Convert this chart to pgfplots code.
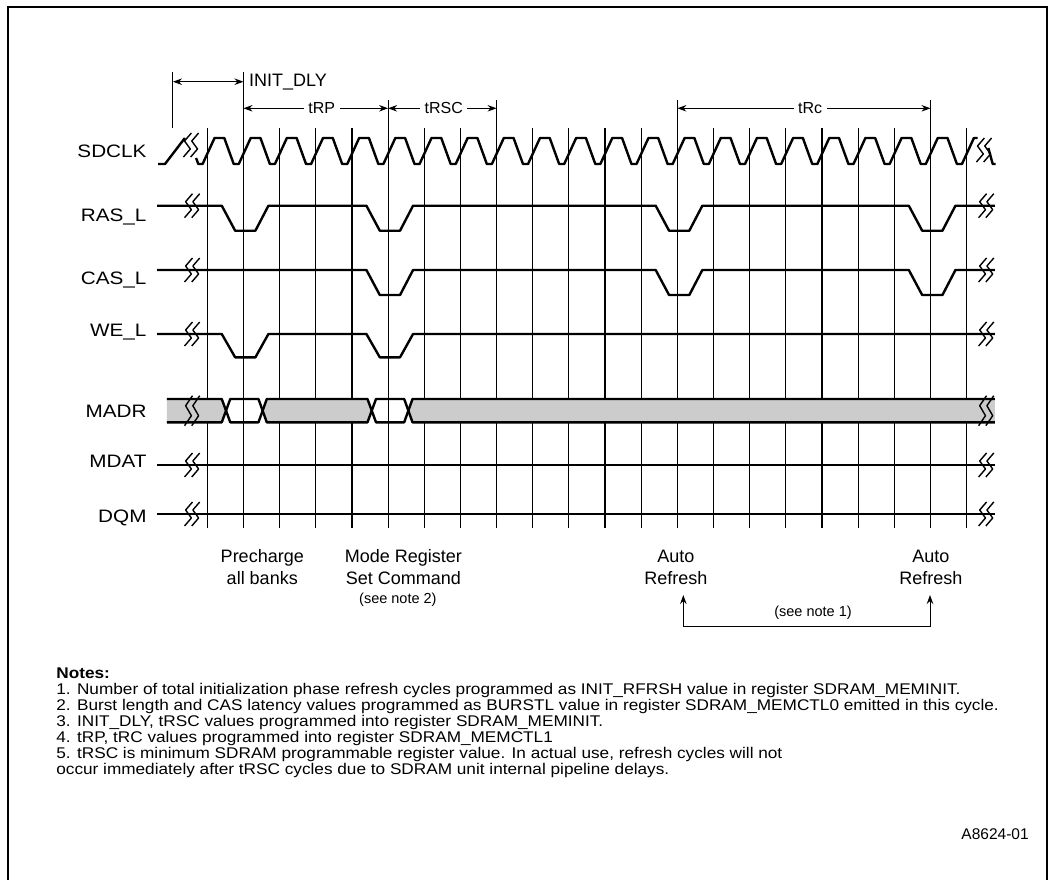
\documentclass[border=0pt]{standalone}
\usepackage{pgfplots}
\pgfplotsset{compat=1.18}
\usepackage{fontspec}
\setmainfont{Liberation Sans}
\newfontfamily\widefont[FakeStretch=1.15]{Liberation Sans}
\newfontfamily\notefont[FakeStretch=1.11]{Liberation Sans}
\usetikzlibrary{arrows.meta}
\definecolor{busgray}{RGB}{204,204,204}
\newcommand\lblfont{\widefont\fontsize{18}{21}\selectfont}
\newcommand\nfont{\notefont\fontsize{15.5}{16}\selectfont}
\tikzset{
  sig/.style={black, line width=2.4pt, mark=none, line join=round},
  grd/.style={black, line width=1.15pt, mark=none},
  mk/.style={black, line width=1pt, mark=none},
  arr/.style={line width=1pt, {Stealth[length=9pt,width=6.5pt]}-{Stealth[length=9pt,width=6.5pt]}},
}
\newcommand\brk[3]{% x center, y center, half height
  \draw[line width=1.4pt, line join=round] (axis cs:{#1-0.1+0.11},{#2-#3}) -- (axis cs:{#1-0.1-0.08},{#2-#3/3}) -- (axis cs:{#1-0.1+0.08},{#2+#3/3}) -- (axis cs:{#1-0.1-0.11},{#2+#3});
  \draw[line width=1.4pt, line join=round] (axis cs:{#1+0.1+0.11},{#2-#3}) -- (axis cs:{#1+0.1-0.08},{#2-#3/3}) -- (axis cs:{#1+0.1+0.08},{#2+#3/3}) -- (axis cs:{#1+0.1-0.11},{#2+#3});
}
\begin{document}
\begin{tikzpicture}
\begin{axis}[
  scale only axis, width=1055pt, height=877pt,
  xmin=-5.733, xmax=23.443, ymin=0, ymax=877, y dir=reverse,
  hide axis, clip=false,
]
\path (rel axis cs:0,0) rectangle (rel axis cs:1,1);
% frame
\draw[line width=2.2pt] (axis cs:-5.51,880) -- (axis cs:-5.51,7) -- (axis cs:23.22,7) -- (axis cs:23.22,880);

% grid lines (clock edges)
\pgfplotsinvokeforeach{0,...,21}{\addplot[grd] coordinates {(#1,128) (#1,528)};}
% timing markers above the clock
\addplot[mk] coordinates {(-0.95,72) (-0.95,128)};
\addplot[mk] coordinates {(1,72) (1,128)};
\addplot[mk] coordinates {(5,100) (5,128)};
\addplot[mk] coordinates {(8,100) (8,128)};
\addplot[mk] coordinates {(13,100) (13,128)};
\addplot[mk] coordinates {(20,100) (20,128)};

% MADR bus fill
\addplot[fill=busgray, draw=none, mark=none] coordinates {(-1.12,399) (0.40,399) (0.517,410.7) (0.40,422.3) (-1.12,422.3)} -- cycle;
\addplot[fill=busgray, draw=none, mark=none] coordinates {(1.532,410.7) (1.645,399) (4.43,399) (4.546,410.7) (4.43,422.3) (1.645,422.3)} -- cycle;
\addplot[fill=busgray, draw=none, mark=none] coordinates {(5.56,410.7) (5.675,399) (21.78,399) (21.78,422.3) (5.675,422.3)} -- cycle;
\addplot[sig] coordinates {(-1.12,399) (0.40,399) (0.635,422.3) (1.415,422.3) (1.645,399) (4.43,399) (4.665,422.3) (5.445,422.3) (5.675,399) (21.78,399)};
\addplot[sig] coordinates {(-1.12,422.3) (0.40,422.3) (0.635,399) (1.415,399) (1.645,422.3) (4.43,422.3) (4.665,399) (5.445,399) (5.675,422.3) (21.78,422.3)};

% SDCLK
\addplot[sig] coordinates {(-1.36,164) (-1.17,164) (-0.62,138)};
\addplot[sig] coordinates {(-0.31,158) (-0.25,164) (-0.13,164)
(0.2,138) (0.47,138) (0.73,164) (0.87,164)
(1.2,138) (1.47,138) (1.73,164) (1.87,164)
(2.2,138) (2.47,138) (2.73,164) (2.87,164)
(3.2,138) (3.47,138) (3.73,164) (3.87,164)
(4.2,138) (4.47,138) (4.73,164) (4.87,164)
(5.2,138) (5.47,138) (5.73,164) (5.87,164)
(6.2,138) (6.47,138) (6.73,164) (6.87,164)
(7.2,138) (7.47,138) (7.73,164) (7.87,164)
(8.2,138) (8.47,138) (8.73,164) (8.87,164)
(9.2,138) (9.47,138) (9.73,164) (9.87,164)
(10.2,138) (10.47,138) (10.73,164) (10.87,164)
(11.2,138) (11.47,138) (11.73,164) (11.87,164)
(12.2,138) (12.47,138) (12.73,164) (12.87,164)
(13.2,138) (13.47,138) (13.73,164) (13.87,164)
(14.2,138) (14.47,138) (14.73,164) (14.87,164)
(15.2,138) (15.47,138) (15.73,164) (15.87,164)
(16.2,138) (16.47,138) (16.73,164) (16.87,164)
(17.2,138) (17.47,138) (17.73,164) (17.87,164)
(18.2,138) (18.47,138) (18.73,164) (18.87,164)
(19.2,138) (19.47,138) (19.73,164) (19.87,164)
(20.2,138) (20.47,138) (20.73,164) (20.87,164)
(21.2,138) (21.3,138)};
\addplot[sig] coordinates {(21.6,148) (21.72,164) (21.8,164)};

% RAS_L
\addplot[sig] coordinates {(-1.39,205.7) (0.4,205.7) (0.77,230.7) (1.33,230.7) (1.69,205.7) (4.4,205.7) (4.77,230.7) (5.33,230.7) (5.69,205.7) (12.4,205.7) (12.77,230.7) (13.33,230.7) (13.69,205.7) (19.4,205.7) (19.77,230.7) (20.33,230.7) (20.69,205.7) (21.78,205.7)};
% CAS_L
\addplot[sig] coordinates {(-1.39,270) (4.4,270) (4.77,295) (5.33,295) (5.69,270) (12.4,270) (12.77,295) (13.33,295) (13.69,270) (19.4,270) (19.77,295) (20.33,295) (20.69,270) (21.78,270)};
% WE_L
\addplot[sig] coordinates {(-1.39,334) (0.4,334) (0.77,357.3) (1.33,357.3) (1.69,334) (4.4,334) (4.77,357.3) (5.33,357.3) (5.69,334) (21.78,334)};
% MDAT
\addplot[sig] coordinates {(-1.39,465) (21.78,465)};
% DQM
\addplot[sig] coordinates {(-1.39,514) (21.78,514)};

% break symbols
\brk{-0.45}{145}{12}
\brk{21.48}{150}{12}
\brk{-0.42}{205.7}{12}
\brk{21.54}{205.7}{12}
\brk{-0.42}{270}{12}
\brk{21.54}{270}{12}
\brk{-0.42}{334}{12}
\brk{21.54}{334}{12}
\brk{-0.42}{410.7}{15}
\brk{21.54}{410.7}{15}
\brk{-0.42}{465}{12}
\brk{21.54}{465}{12}
\brk{-0.42}{514}{12}
\brk{21.54}{514}{12}

% signal names
\node[font=\lblfont, inner sep=0pt, anchor=base east] at (axis cs:-1.676,157.5) {SDCLK};
\node[font=\lblfont, inner sep=0pt, anchor=base east] at (axis cs:-1.676,221.5) {RAS\_L};
\node[font=\lblfont, inner sep=0pt, anchor=base east] at (axis cs:-1.676,284.5) {CAS\_L};
\node[font=\lblfont, inner sep=0pt, anchor=base east] at (axis cs:-1.676,336.5) {WE\_L};
\node[font=\lblfont, inner sep=0pt, anchor=base east] at (axis cs:-1.676,417) {MADR};
\node[font=\lblfont, inner sep=0pt, anchor=base east] at (axis cs:-1.676,467.5) {MDAT};
\node[font=\lblfont, inner sep=0pt, anchor=base east] at (axis cs:-1.676,522.5) {DQM};

% timing arrows
\draw[arr] (axis cs:-0.95,81.7) -- (axis cs:1,81.7);
\node[font=\fontsize{18}{21}\selectfont, inner sep=0pt, anchor=base west] at (axis cs:1.153,86.7) {INIT\_DLY};
\draw[arr] (axis cs:1,108.3) -- (axis cs:5,108.3);
\node[font=\fontsize{16}{19}\selectfont, fill=white, inner xsep=4.5pt, inner ysep=1pt, anchor=base] at (axis cs:3.164,113.3) {tRP};
\draw[arr] (axis cs:5,108.3) -- (axis cs:8,108.3);
\node[font=\fontsize{16}{19}\selectfont, fill=white, inner xsep=4.5pt, inner ysep=1pt, anchor=base] at (axis cs:6.54,113.3) {tRSC};
\draw[arr] (axis cs:13,108.3) -- (axis cs:20,108.3);
\node[font=\fontsize{16}{19}\selectfont, fill=white, inner xsep=4.5pt, inner ysep=1pt, anchor=base] at (axis cs:16.67,113.3) {tRc};

% event annotations
\node[font=\fontsize{18}{21}\selectfont, inner sep=0pt, anchor=base] at (axis cs:1.52,562.7) {Precharge};
\node[font=\fontsize{18}{21}\selectfont, inner sep=0pt, anchor=base] at (axis cs:1.52,584.3) {all banks};
\node[font=\fontsize{18}{21}\selectfont, inner sep=0pt, anchor=base] at (axis cs:5.42,562.7) {Mode Register};
\node[font=\fontsize{18}{21}\selectfont, inner sep=0pt, anchor=base] at (axis cs:5.42,584.3) {Set Command};
\node[font=\fontsize{14.5}{17}\selectfont, inner sep=0pt, anchor=base] at (axis cs:5.27,603) {(see note 2)};
\node[font=\fontsize{18}{21}\selectfont, inner sep=0pt, anchor=base] at (axis cs:12.96,562.7) {Auto};
\node[font=\fontsize{18}{21}\selectfont, inner sep=0pt, anchor=base] at (axis cs:12.96,584.3) {Refresh};
\node[font=\fontsize{18}{21}\selectfont, inner sep=0pt, anchor=base] at (axis cs:20.01,562.7) {Auto};
\node[font=\fontsize{18}{21}\selectfont, inner sep=0pt, anchor=base] at (axis cs:20.01,584.3) {Refresh};
\draw[line width=1pt, {Stealth[length=9pt,width=6.5pt]}-{Stealth[length=9pt,width=6.5pt]}] (axis cs:13.164,595) -- (axis cs:13.164,626) -- (axis cs:19.986,626) -- (axis cs:19.986,595);
\node[font=\fontsize{14.5}{17}\selectfont, inner sep=0pt, anchor=base] at (axis cs:16.75,616.5) {(see note 1)};

% notes
\node[font=\nfont\bfseries, inner sep=0pt, anchor=base west] at (axis cs:-4.18,678) {Notes:};
\node[font=\nfont, inner sep=0pt, anchor=base west] at (axis cs:-4.18,694) {1. Number of total initialization phase refresh cycles programmed as INIT\_RFRSH value in register SDRAM\_MEMINIT.};
\node[font=\nfont, inner sep=0pt, anchor=base west] at (axis cs:-4.18,710) {2. Burst length and CAS latency values programmed as BURSTL value in register SDRAM\_MEMCTL0 emitted in this cycle.};
\node[font=\nfont, inner sep=0pt, anchor=base west] at (axis cs:-4.18,726) {3. INIT\_DLY, tRSC values programmed into register SDRAM\_MEMINIT.};
\node[font=\nfont, inner sep=0pt, anchor=base west] at (axis cs:-4.18,742.3) {4. tRP, tRC values programmed into register SDRAM\_MEMCTL1};
\node[font=\nfont, inner sep=0pt, anchor=base west] at (axis cs:-4.18,758.3) {5. tRSC is minimum SDRAM programmable register value. In actual use, refresh cycles will not};
\node[font=\nfont, inner sep=0pt, anchor=base west] at (axis cs:-4.18,774.3) {occur immediately after tRSC cycles due to SDRAM unit internal pipeline delays.};
\node[font=\fontsize{15.5}{18}\selectfont, inner sep=0pt, anchor=base east] at (axis cs:22.72,839.3) {A8624-01};
\end{axis}
\end{tikzpicture}
\end{document}
